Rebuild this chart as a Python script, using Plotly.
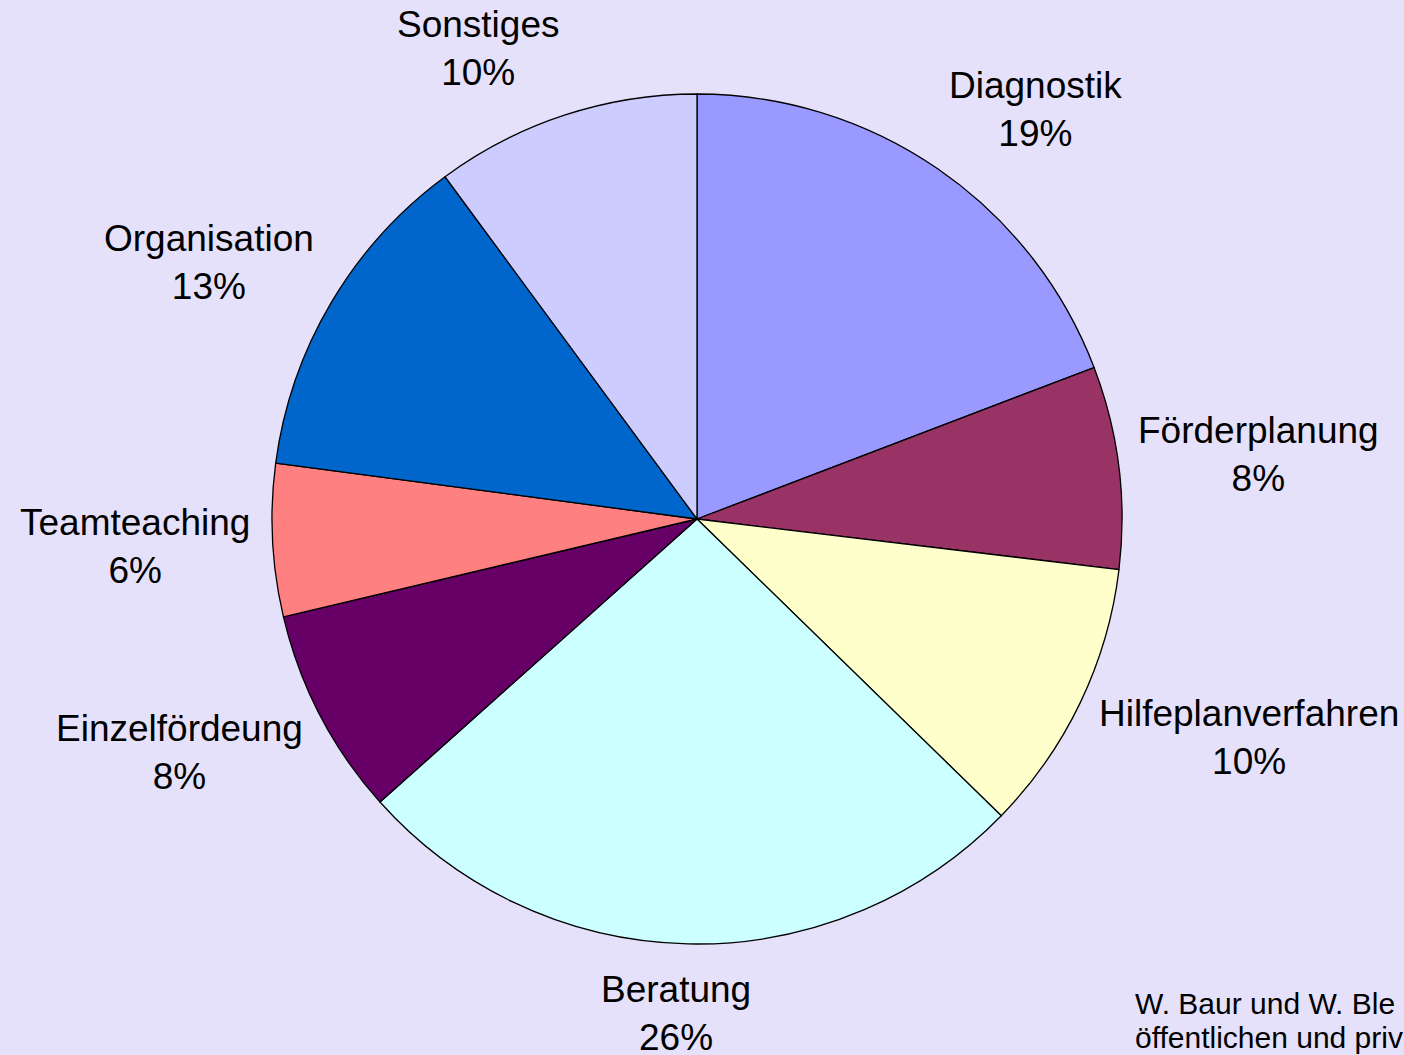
import math
import plotly.graph_objects as go

# ---------------- data ----------------
labels = ["Diagnostik", "Förderplanung", "Hilfeplanverfahren", "Beratung",
          "Einzelfördeung", "Teamteaching", "Organisation", "Sonstiges"]
values = [19.2, 7.7, 10.4, 26.1, 7.9, 5.8, 12.8, 10.1]
colors = ["#9999FF", "#993366", "#FFFFCC", "#CCFFFF",
          "#660066", "#FF8080", "#0066CC", "#CCCCFF"]
footer_lines = ["W. Baur und W. Ble", "öffentlichen und priv"]

# ---------------- layout constants ----------------
W, H = 1404, 1055
CX, CY, R = 697, 519, 425
BG = "#E5E1FA"
FS = 37
FONT = "Liberation Sans, Arial, sans-serif"

# Arial advance widths (per 1000 em) for label-box estimation
AW = {"S": 667, "o": 556, "n": 556, "s": 500, "t": 278, "i": 222, "g": 556,
      "e": 556, "D": 722, "a": 556, "k": 500, "F": 611, "ö": 556, "r": 333,
      "d": 556, "p": 556, "l": 222, "u": 556, "H": 722, "f": 278, "h": 556,
      "v": 500, "B": 667, "E": 667, "z": 500, "T": 611, "m": 833, "c": 500,
      "O": 778, "%": 889}


def text_w(s, fs):
    return sum(AW.get(ch, 556) for ch in s) / 1000.0 * fs


def spow(t, p):
    return math.copysign(abs(t) ** p, t)


fig = go.Figure()
fig.add_trace(go.Pie(
    labels=labels,
    values=values,
    sort=False,
    direction="clockwise",
    rotation=0,
    marker=dict(colors=colors, line=dict(color="black", width=1.3)),
    textinfo="none",
    hoverinfo="label+percent",
    showlegend=False,
    domain=dict(x=[(CX - R) / W, (CX + R) / W],
                y=[(H - (CY + R)) / H, (H - (CY - R)) / H]),
))

total = sum(values)
cum = 0.0
annotations = []
GX, GY = 20, 30
HH = 40
for lab, v in zip(labels, values):
    pct = f"{round(v / total * 100)}%"
    mid = (cum + v / 2) / total * 2 * math.pi
    cum += v
    sx, cy_ = math.sin(mid), math.cos(mid)
    hw = max(text_w(lab, FS), text_w(pct, FS)) / 2
    px = CX + sx * (R + GX) + hw * math.tanh(7 * sx)
    py = CY - cy_ * (R + GY) - HH * spow(cy_, 0.7)
    annotations.append(dict(
        x=px / W, y=1 - py / H, xref="paper", yref="paper",
        text=f"{lab}<br>{pct}", showarrow=False,
        xanchor="center", yanchor="middle", align="center",
        font=dict(family=FONT, size=FS, color="black"),
    ))

for i, line in enumerate(footer_lines):
    annotations.append(dict(
        x=1133 / W, y=1 - (1003 + 34 * i) / H, xref="paper", yref="paper",
        text=line, showarrow=False, xanchor="left", yanchor="middle",
        font=dict(family=FONT, size=30, color="black"),
    ))

fig.update_layout(
    width=W, height=H,
    margin=dict(l=0, r=0, t=0, b=0),
    paper_bgcolor=BG, plot_bgcolor=BG,
    annotations=annotations,
    font=dict(family=FONT),
)

fig.write_html("out.html",
               config={"displayModeBar": False},
               post_script=f"document.body.style.margin='0';document.body.style.background='{BG}';")
